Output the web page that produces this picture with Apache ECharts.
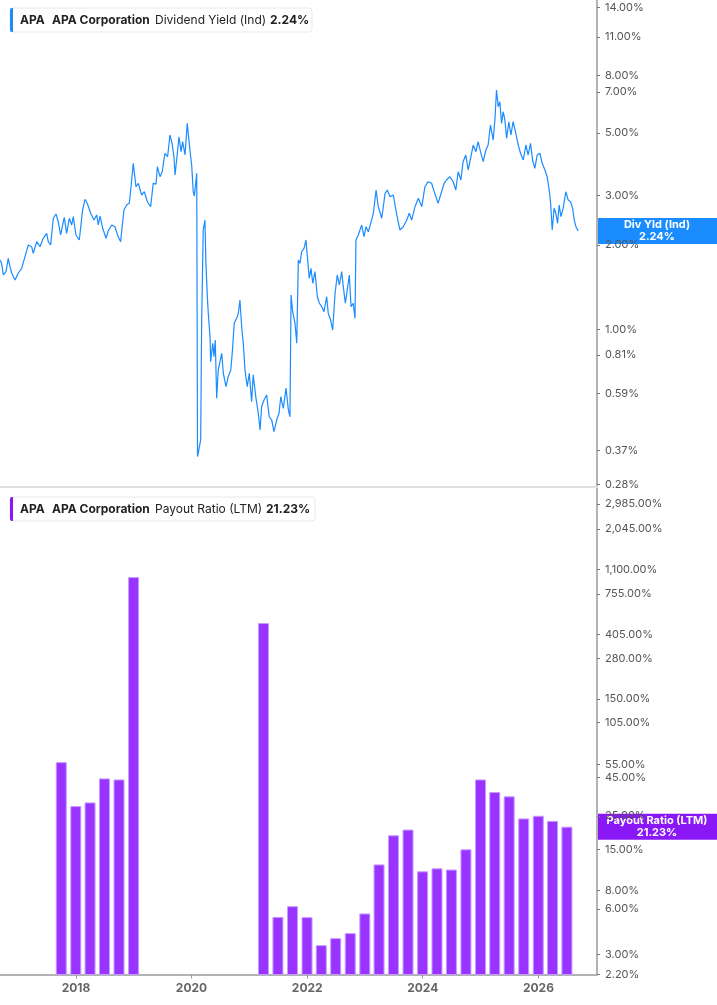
<!DOCTYPE html>
<html>
<head>
<meta charset="utf-8">
<title>APA Dividend Yield / Payout Ratio</title>
<script src="https://cdn.jsdelivr.net/npm/echarts@6/dist/echarts.min.js"></script>
<style>
  html, body { margin: 0; padding: 0; background: #fff; }
  #chart { width: 717px; height: 1005px; }
</style>
</head>
<body>
<div id="chart"></div>
<script>
// dividend yield (Ind), %
var divDates = [
  '2016-09-08','2016-09-18','2016-09-29','2016-10-16','2016-10-30','2016-11-10','2016-11-21','2016-12-12',
  '2017-01-01','2017-01-23','2017-02-13','2017-03-06','2017-03-27','2017-04-06','2017-04-28','2017-05-19',
  '2017-06-08','2017-06-30','2017-07-10','2017-07-25','2017-08-11','2017-08-28','2017-09-11','2017-09-26',
  '2017-10-19','2017-11-03','2017-11-20','2017-12-05','2017-12-15','2018-01-01','2018-01-22','2018-02-12',
  '2018-02-27','2018-03-13','2018-04-04','2018-04-25','2018-05-12','2018-05-22','2018-06-02','2018-06-19',
  '2018-07-10','2018-07-24','2018-08-15','2018-09-04','2018-09-25','2018-10-10','2018-10-31','2018-11-17',
  '2018-12-04','2018-12-15','2018-12-29','2019-01-15','2019-01-30','2019-02-20','2019-03-09','2019-03-28',
  '2019-04-18','2019-05-04','2019-05-22','2019-05-30','2019-06-16','2019-06-30','2019-07-17','2019-08-03',
  '2019-08-18','2019-08-31','2019-09-12','2019-09-19','2019-09-29','2019-10-14','2019-10-27','2019-11-06',
  '2019-11-21','2019-12-05','2019-12-22','2020-01-02','2020-01-12','2020-01-19','2020-02-03','2020-02-08',
  '2020-02-13','2020-02-28','2020-03-05','2020-03-15','2020-03-26','2020-04-01','2020-04-10','2020-04-16',
  '2020-04-27','2020-05-01','2020-05-14','2020-05-22','2020-05-30','2020-06-08','2020-06-18','2020-06-29',
  '2020-07-10','2020-07-20','2020-08-06','2020-08-20','2020-09-05','2020-09-15','2020-09-27','2020-10-12',
  '2020-10-23','2020-11-02','2020-11-13','2020-11-23','2020-12-04','2020-12-18','2020-12-31','2021-01-15',
  '2021-01-25','2021-02-10','2021-02-26','2021-03-09','2021-03-19','2021-04-03','2021-04-20','2021-05-06',
  '2021-05-22','2021-06-05','2021-06-22','2021-07-07','2021-07-18','2021-08-03','2021-08-20','2021-09-04',
  '2021-09-14','2021-09-21','2021-10-01','2021-10-16','2021-10-27','2021-11-06','2021-11-16','2021-11-27',
  '2021-12-12','2021-12-24','2022-01-02','2022-01-14','2022-01-25','2022-02-05','2022-02-19','2022-03-06',
  '2022-03-19','2022-04-03','2022-04-17','2022-05-04','2022-05-14','2022-05-29','2022-06-11','2022-06-26',
  '2022-07-10','2022-07-23','2022-08-07','2022-08-17','2022-08-30','2022-09-11','2022-09-24','2022-10-05',
  '2022-10-19','2022-10-30','2022-11-05','2022-11-20','2022-12-11','2022-12-26','2023-01-08','2023-01-22',
  '2023-02-06','2023-02-23','2023-03-12','2023-03-26','2023-04-17','2023-05-08','2023-05-22','2023-06-08',
  '2023-06-29','2023-07-21','2023-08-10','2023-08-31','2023-09-22','2023-10-08','2023-10-23','2023-11-13',
  '2023-12-04','2023-12-26','2024-01-15','2024-02-04','2024-02-26','2024-03-17','2024-04-07','2024-04-29',
  '2024-05-15','2024-05-30','2024-06-20','2024-07-11','2024-07-28','2024-08-12','2024-08-29','2024-09-12',
  '2024-09-29','2024-10-14','2024-10-29','2024-11-15','2024-12-02','2024-12-16','2024-12-31','2025-01-17',
  '2025-02-03','2025-02-17','2025-03-04','2025-03-21','2025-04-01','2025-04-11','2025-04-22','2025-05-02',
  '2025-05-13','2025-05-23','2025-06-03','2025-06-14','2025-06-28','2025-07-11','2025-07-25','2025-08-09',
  '2025-08-26','2025-09-10','2025-09-27','2025-10-14','2025-10-28','2025-11-12','2025-11-25','2025-12-09',
  '2025-12-24','2026-01-10','2026-01-25','2026-02-11','2026-02-25','2026-03-10','2026-03-19','2026-03-29',
  '2026-04-10','2026-04-21','2026-05-02','2026-05-12','2026-05-23','2026-06-06','2026-06-23','2026-07-08',
  '2026-07-23','2026-08-05','2026-08-15','2026-08-26','2026-09-09'
];
var divYield = [
  1.765,1.718,1.561,1.604,1.790,1.671,1.583,1.498,
  1.583,1.649,1.814,1.996,1.968,1.865,2.051,1.968,
  2.109,2.197,2.051,1.996,2.485,2.574,2.416,2.167,
  2.505,2.197,2.485,2.352,2.518,2.167,2.080,2.660,
  2.904,2.810,2.589,2.450,2.554,2.352,2.532,2.290,
  2.109,2.244,2.352,2.319,2.137,2.051,2.660,2.771,
  2.810,3.220,3.901,3.220,3.311,3.008,3.090,2.847,
  2.733,3.311,3.290,3.794,3.495,3.641,4.236,4.119,
  4.920,4.597,4.119,3.544,4.009,4.852,4.291,4.658,
  4.176,5.415,4.351,3.847,3.090,2.983,3.593,0.352,
  0.357,0.404,1.050,2.257,2.450,1.718,1.306,1.140,
  0.941,0.767,0.892,0.799,0.916,0.568,0.716,0.767,
  0.821,0.697,0.625,0.678,0.716,0.832,1.050,1.094,
  1.140,1.271,1.021,0.892,0.716,0.625,0.697,0.552,
  0.688,0.575,0.502,0.438,0.530,0.560,0.583,0.488,
  0.475,0.432,0.475,0.502,0.575,0.523,0.617,0.516,
  0.488,1.325,1.155,1.050,0.892,1.765,1.718,1.889,
  1.943,2.080,1.814,1.519,1.649,1.458,1.604,1.306,
  1.238,1.204,1.155,1.306,1.140,1.079,0.994,1.344,
  1.561,1.438,1.604,1.418,1.238,1.380,1.561,1.204,
  1.238,1.094,2.080,2.167,2.352,2.137,2.319,2.226,
  2.385,2.589,3.134,2.733,2.485,3.050,3.134,2.966,
  3.008,2.554,2.257,2.319,2.450,2.589,2.450,2.733,
  2.928,2.733,3.220,3.355,3.311,3.050,2.810,3.090,
  3.311,3.402,3.495,3.355,3.134,3.641,3.402,3.953,
  4.176,3.692,4.064,4.533,4.291,4.658,4.291,3.953,
  4.351,4.533,5.341,4.722,5.565,7.115,6.204,6.464,
  5.415,5.955,5.565,4.789,5.487,4.920,5.487,5.053,
  4.533,4.236,4.009,4.533,4.176,4.597,4.009,3.744,
  4.176,4.236,3.901,3.692,3.495,3.134,2.810,2.257,
  2.697,2.589,2.385,2.771,2.518,2.697,3.090,2.887,
  2.847,2.697,2.450,2.319,2.240
];

// payout ratio (LTM), %, quarter ends
var payoutDates = [
  '2017-09-30','2017-12-31','2018-03-31','2018-06-30','2018-09-30','2018-12-31',
  '2021-03-31','2021-06-30','2021-09-30','2021-12-31','2022-03-31','2022-06-30',
  '2022-09-30','2022-12-31','2023-03-31','2023-06-30','2023-09-30','2023-12-31',
  '2024-03-31','2024-06-30','2024-09-30','2024-12-31','2025-03-31','2025-06-30',
  '2025-09-30','2025-12-31','2026-03-31','2026-06-30'
];
var payoutRatio = [
  57.1, 29.1, 30.8, 44.5, 43.8, 975,
  482, 5.32, 6.27, 5.30, 3.45, 3.84,
  4.15, 5.61, 11.9, 18.6, 20.3, 10.7,
  11.2, 11.0, 15.0, 43.8, 36.1, 33.8,
  24.1, 25.1, 23.2, 21.23
];

// axis tick labels
var yieldTicks = [0.28, 0.37, 0.59, 0.81, 1, 2, 3, 5, 7, 8, 11, 14];
var payoutTicks = [2.2, 3, 6, 8, 15, 25, 45, 55, 105, 150, 280, 405, 755, 1100, 2045, 2985];
var yearTicks = [2018, 2020, 2022, 2024, 2026];

var lastYield = 2.24;
var lastPayout = 21.23;

var BLUE = '#1a8cff';
var PURPLE = '#8a17f5';
var FONT = 'Inter, "Noto Sans", sans-serif';

// date string -> timestamp (local midnight)
function d(s) {
  var p = s.split('-');
  return +new Date(+p[0], +p[1] - 1, +p[2]);
}

function pct(v) {
  return v.toLocaleString('en-US', {minimumFractionDigits: 2, maximumFractionDigits: 2}) + '%';
}

var xMin = d('2016-09-08');
var xMax = d('2027-01-06');
var yearValues = yearTicks.map(function (y) { return +new Date(y, 0, 1); });

var chart = echarts.init(document.getElementById('chart'));

var option = {
  animation: false,
  textStyle: {fontFamily: FONT},
  grid: [
    {left: 0, right: 120, top: 0, height: 486.5},
    {left: 0, right: 120, top: 487, bottom: 30.5}
  ],
  xAxis: [{
    type: 'value',
    gridIndex: 0,
    min: xMin,
    max: xMax,
    axisLine: {lineStyle: {color: '#e0e0e0', width: 2}},
    axisTick: {show: false},
    axisLabel: {show: false},
    splitLine: {show: false}
  }, {
    type: 'value',
    gridIndex: 1,
    min: xMin,
    max: xMax,
    axisLine: {lineStyle: {color: '#b3b3b3', width: 2}},
    axisTick: {
      show: true,
      length: 4,
      lineStyle: {color: '#999'},
      customValues: yearValues
    },
    axisLabel: {
      customValues: yearValues,
      formatter: function (v) { return String(new Date(v).getFullYear()); },
      color: '#666',
      fontWeight: 'bold',
      fontSize: 12,
      margin: 8
    },
    splitLine: {show: false}
  }],
  yAxis: [{
    type: 'log',
    gridIndex: 0,
    position: 'right',
    min: 0.2754,
    max: 14.89,
    axisLine: {show: true, lineStyle: {color: '#b3b3b3', width: 2}},
    axisTick: {show: true, length: 3, lineStyle: {color: '#777'}, customValues: yieldTicks},
    axisLabel: {
      customValues: yieldTicks,
      formatter: function (v) { return pct(v); },
      color: '#555',
      fontSize: 11,
      margin: 8
    },
    splitLine: {show: false}
  }, {
    type: 'log',
    gridIndex: 1,
    position: 'right',
    min: 2.2,
    max: 3881,
    axisLine: {show: true, lineStyle: {color: '#b3b3b3', width: 2}},
    axisTick: {show: true, length: 3, lineStyle: {color: '#777'}, customValues: payoutTicks},
    axisLabel: {
      customValues: payoutTicks,
      formatter: function (v) { return pct(v); },
      color: '#555',
      fontSize: 11,
      margin: 8
    },
    splitLine: {show: false}
  }],
  series: [{
    name: 'Dividend Yield (Ind)',
    type: 'line',
    xAxisIndex: 0,
    yAxisIndex: 0,
    showSymbol: false,
    lineStyle: {color: BLUE, width: 1.2},
    data: divDates.map(function (t, i) { return [d(t), divYield[i]]; })
  }, {
    name: 'Payout Ratio (LTM)',
    type: 'bar',
    xAxisIndex: 1,
    yAxisIndex: 1,
    barWidth: 11,
    clip: true,
    itemStyle: {color: '#9933ff', borderColor: '#c79bff', borderWidth: 1},
    data: payoutDates.map(function (t, i) { return [d(t), payoutRatio[i]]; })
  }]
};

chart.setOption(option);

function legendBox(y, accent, parts) {
  var children = [{
    type: 'rect',
    shape: {x: 10, y: y, width: parts.w, height: 24, r: 3},
    style: {fill: '#fff', stroke: '#e8e8e8', lineWidth: 1}
  }, {
    type: 'rect',
    shape: {x: 10, y: y, width: 3, height: 24, r: [2, 0, 0, 2]},
    style: {fill: accent}
  }];
  parts.items.forEach(function (it) {
    children.push({
      type: 'text',
      x: it.x,
      y: y + 12,
      style: {
        text: it.t,
        fill: '#222',
        font: (it.b ? 'bold ' : '') + '12px ' + FONT,
        verticalAlign: 'middle'
      }
    });
  });
  return {type: 'group', z: 100, children: children};
}

function valueTag(yPix, color, line1, line2) {
  return {
    type: 'group',
    z: 100,
    children: [{
      type: 'rect',
      shape: {x: 597, y: yPix - 13, width: 120, height: 26},
      style: {fill: color}
    }, {
      type: 'text',
      x: 657,
      y: yPix,
      style: {
        text: line1 + '\n' + line2,
        fill: '#fff',
        font: 'bold 11px ' + FONT,
        lineHeight: 12,
        align: 'center',
        verticalAlign: 'middle'
      }
    }]
  };
}

var yTag1 = chart.convertToPixel({yAxisIndex: 0}, lastYield);
var yTag2 = chart.convertToPixel({yAxisIndex: 1}, lastPayout);

chart.setOption({
  graphic: [
    legendBox(8, BLUE, {w: 302, items: [
      {x: 20, t: 'APA', b: true},
      {x: 52, t: 'APA Corporation', b: true},
      {x: 155, t: 'Dividend Yield (Ind)', b: false},
      {x: 270, t: pct(lastYield), b: true}
    ]}),
    legendBox(497, PURPLE, {w: 305, items: [
      {x: 20, t: 'APA', b: true},
      {x: 52, t: 'APA Corporation', b: true},
      {x: 155, t: 'Payout Ratio (LTM)', b: false},
      {x: 266, t: pct(lastPayout), b: true}
    ]}),
    valueTag(yTag1, BLUE, 'Div Yld (Ind)', pct(lastYield)),
    valueTag(yTag2, PURPLE, 'Payout Ratio (LTM)', pct(lastPayout))
  ]
});
</script>
</body>
</html>
